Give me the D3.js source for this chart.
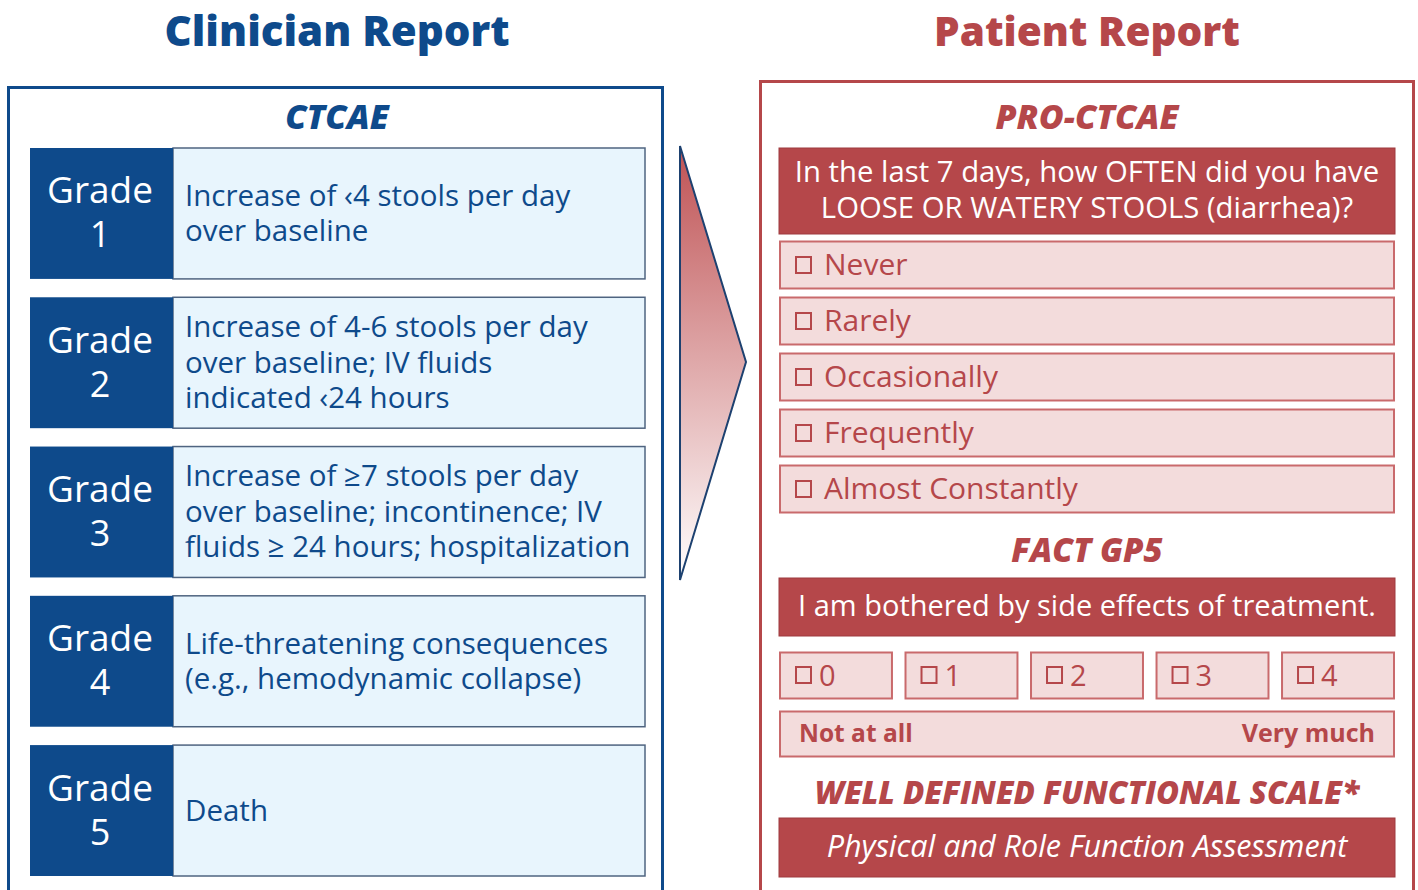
<!DOCTYPE html>
<html>
<head>
<meta charset="utf-8">
<script src="https://cdn.jsdelivr.net/npm/d3@7"></script>
<style>
  body { margin: 0; background: #fff; }
  svg { display: block; font-family: "Open Sans", "Noto Sans", sans-serif; }
</style>
</head>
<body>
<svg id="chart" width="1418" height="890"></svg>
<script>
// Left side: clinician grading
const grades = ['1', '2', '3', '4', '5'];
const gradeText = [
    ['Increase of \u20394 stools per day', 'over baseline'],
    ['Increase of 4-6 stools per day', 'over baseline; IV fluids', 'indicated \u203924 hours'],
    ['Increase of \u22657 stools per day', 'over baseline; incontinence; IV', 'fluids \u2265 24 hours; hospitalization'],
    ['Life-threatening consequences', '(e.g., hemodynamic collapse)'],
    ['Death']
];

// Right side: patient report
const proQuestion = ['In the last 7 days, how OFTEN did you have', 'LOOSE OR WATERY STOOLS (diarrhea)?'];
const frequencyOptions = ['Never', 'Rarely', 'Occasionally', 'Frequently', 'Almost Constantly'];
const factStatement = 'I am bothered by side effects of treatment.';
const factScores = ['0', '1', '2', '3', '4'];
const scaleEnds = ['Not at all', 'Very much'];
const functionalText = 'Physical and Role Function Assessment';

const blue = '#0e4a8b';
const blueLight = '#e8f5fd';
const red = '#b5474a';
const redLight = '#f3dcdc';

const svg = d3.select('#chart');

const defs = svg.append('defs');
const grad = defs.append('linearGradient')
    .attr('id', 'arrowGrad')
    .attr('x1', 0).attr('y1', 0).attr('x2', 0).attr('y2', 1);
grad.append('stop').attr('offset', '0%').attr('stop-color', '#bf5254');
grad.append('stop').attr('offset', '100%').attr('stop-color', '#ffffff');

// ---------- Clinician panel ----------
svg.append('text')
    .attr('x', 337).attr('y', 46)
    .attr('text-anchor', 'middle')
    .attr('font-size', 42).attr('font-weight', 800)
    .attr('fill', blue)
    .text('Clinician Report');

svg.append('rect')
    .attr('x', 8.5).attr('y', 87.5)
    .attr('width', 654).attr('height', 820)
    .attr('fill', 'none').attr('stroke', blue).attr('stroke-width', 3);

svg.append('text')
    .attr('x', 337).attr('y', 129)
    .attr('text-anchor', 'middle')
    .attr('font-size', 34).attr('font-weight', 800).attr('font-style', 'italic')
    .attr('fill', blue)
    .text('CTCAE');

const rowY = d3.scaleBand()
    .domain(grades)
    .range([148, 876])
    .paddingInner(0.123);

const rows = svg.append('g').selectAll('g')
    .data(grades)
    .join('g')
    .attr('transform', d => `translate(0,${rowY(d)})`);

rows.append('rect')
    .attr('x', 173).attr('y', 0)
    .attr('width', 472).attr('height', rowY.bandwidth())
    .attr('fill', blueLight).attr('stroke', '#4f6480').attr('stroke-width', 1.5);

rows.append('rect')
    .attr('x', 30).attr('y', 0)
    .attr('width', 143).attr('height', rowY.bandwidth())
    .attr('fill', blue);

rows.append('text')
    .attr('x', 100).attr('y', rowY.bandwidth() / 2 - 10)
    .attr('text-anchor', 'middle')
    .attr('font-size', 37).attr('fill', '#fff')
    .text('Grade');

rows.append('text')
    .attr('x', 100).attr('y', rowY.bandwidth() / 2 + 34)
    .attr('text-anchor', 'middle')
    .attr('font-size', 36).attr('fill', '#fff')
    .text(d => d);

rows.each(function(d, i) {
    const lines = gradeText[i];
    const lh = 35.5;
    const start = rowY.bandwidth() / 2 - (lines.length - 1) * lh / 2 + 10;
    d3.select(this).selectAll('text.desc')
        .data(lines)
        .join('text')
        .attr('class', 'desc')
        .attr('x', 185)
        .attr('y', (l, j) => start + j * lh)
        .attr('font-size', 29.5).attr('fill', blue)
        .text(l => l);
});

// ---------- Arrow ----------
svg.append('path')
    .attr('d', d3.line()([[680, 146], [746, 362], [680, 580]]) + 'Z')
    .attr('fill', 'url(#arrowGrad)')
    .attr('stroke', '#1d4170').attr('stroke-width', 2);

// ---------- Patient panel ----------
svg.append('text')
    .attr('x', 1087).attr('y', 46)
    .attr('text-anchor', 'middle')
    .attr('font-size', 40.5).attr('font-weight', 800)
    .attr('fill', red)
    .text('Patient Report');

svg.append('rect')
    .attr('x', 760.5).attr('y', 81.5)
    .attr('width', 653).attr('height', 830)
    .attr('fill', 'none').attr('stroke', red).attr('stroke-width', 3);

function heading(text, y, size) {
    svg.append('text')
        .attr('x', 1087).attr('y', y)
        .attr('text-anchor', 'middle')
        .attr('font-size', size).attr('font-weight', 800).attr('font-style', 'italic')
        .attr('fill', red)
        .text(text);
}

heading('PRO-CTCAE', 129, 34);

svg.append('rect')
    .attr('x', 779).attr('y', 148).attr('width', 616).attr('height', 86)
    .attr('fill', red).attr('stroke', '#9e3b3e').attr('stroke-width', 1);

svg.append('g').selectAll('text')
    .data(proQuestion)
    .join('text')
    .attr('x', 1087).attr('y', (d, i) => 182 + i * 36)
    .attr('text-anchor', 'middle')
    .attr('font-size', 29.3).attr('fill', '#fff')
    .text(d => d);

const optY = d3.scaleBand()
    .domain(frequencyOptions)
    .range([241, 513])
    .paddingInner(0.143);

const opts = svg.append('g').selectAll('g')
    .data(frequencyOptions)
    .join('g')
    .attr('transform', d => `translate(0,${optY(d)})`);

opts.append('rect')
    .attr('x', 780).attr('y', 0.5)
    .attr('width', 614).attr('height', optY.bandwidth() - 1)
    .attr('fill', redLight).attr('stroke', '#c96a6c').attr('stroke-width', 2);

opts.append('rect')
    .attr('x', 796).attr('y', optY.bandwidth() / 2 - 8)
    .attr('width', 15).attr('height', 16)
    .attr('fill', 'none').attr('stroke', red).attr('stroke-width', 2);

opts.append('text')
    .attr('x', 824).attr('y', optY.bandwidth() / 2 + 10)
    .attr('font-size', 30).attr('fill', red)
    .text(d => d);

heading('FACT GP5', 562, 33);

svg.append('rect')
    .attr('x', 779).attr('y', 578).attr('width', 616).attr('height', 58)
    .attr('fill', red).attr('stroke', '#9e3b3e').attr('stroke-width', 1);

svg.append('text')
    .attr('x', 1087).attr('y', 616)
    .attr('text-anchor', 'middle')
    .attr('font-size', 29).attr('fill', '#fff')
    .text(factStatement);

const scoreX = d3.scaleBand()
    .domain(factScores)
    .range([779, 1395])
    .paddingInner(0.092);

const scores = svg.append('g').selectAll('g')
    .data(factScores)
    .join('g')
    .attr('transform', d => `translate(${scoreX(d)},652)`);

scores.append('rect')
    .attr('x', 1).attr('y', 0.5)
    .attr('width', scoreX.bandwidth() - 2).attr('height', 46)
    .attr('fill', redLight).attr('stroke', '#c96a6c').attr('stroke-width', 2);

scores.append('rect')
    .attr('x', 17).attr('y', 15)
    .attr('width', 15).attr('height', 16)
    .attr('fill', 'none').attr('stroke', red).attr('stroke-width', 2);

scores.append('text')
    .attr('x', 40).attr('y', 34)
    .attr('font-size', 29).attr('fill', red)
    .text(d => d);

svg.append('rect')
    .attr('x', 780).attr('y', 711.5).attr('width', 614).attr('height', 45)
    .attr('fill', redLight).attr('stroke', '#c96a6c').attr('stroke-width', 2);

svg.append('text')
    .attr('x', 799).attr('y', 742)
    .attr('font-size', 24.5).attr('font-weight', 700).attr('fill', red)
    .text(scaleEnds[0]);

svg.append('text')
    .attr('x', 1375).attr('y', 742)
    .attr('text-anchor', 'end')
    .attr('font-size', 25).attr('font-weight', 700).attr('fill', red)
    .text(scaleEnds[1]);

heading('WELL DEFINED FUNCTIONAL SCALE*', 804, 31.4);

svg.append('rect')
    .attr('x', 779).attr('y', 818).attr('width', 616).attr('height', 59)
    .attr('fill', red).attr('stroke', '#9e3b3e').attr('stroke-width', 1);

svg.append('text')
    .attr('x', 1087).attr('y', 857)
    .attr('text-anchor', 'middle')
    .attr('font-size', 30.5).attr('font-style', 'italic').attr('fill', '#fff')
    .text(functionalText);
</script>
</body>
</html>
